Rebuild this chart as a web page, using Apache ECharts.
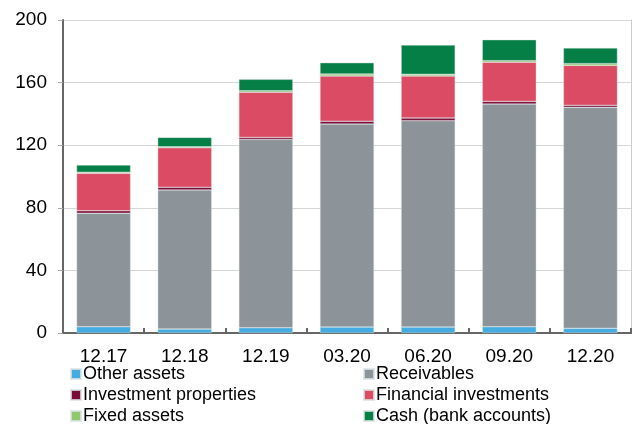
<!DOCTYPE html>
<html>
<head>
<meta charset="utf-8">
<script src="https://cdn.jsdelivr.net/npm/echarts@6/dist/echarts.min.js"></script>
<style>
  html, body { margin: 0; padding: 0; background: #fff; }
  #chart { width: 632px; height: 424px; }
</style>
</head>
<body>
<div id="chart"></div>
<script>
// Quarter-end balance sheet asset breakdown
const categories = ['12.17', '12.18', '12.19', '03.20', '06.20', '09.20', '12.20'];
const yTicks = [0, 40, 80, 120, 160, 200];

const otherAssets          = [4.0, 2.5, 3.4, 3.8, 3.8, 4.0, 3.0];
const receivables          = [72.5, 88.9, 120.3, 129.7, 131.9, 142.3, 141.2];
const investmentProperties = [1.6, 1.7, 1.3, 1.8, 1.7, 1.7, 1.3];
const financialInvestments = [23.9, 25.3, 28.8, 28.9, 26.8, 25.0, 25.5];
const fixedAssets          = [0.7, 0.6, 1.0, 1.3, 1.1, 1.0, 1.1];
const cashBankAccounts     = [4.6, 6.0, 7.3, 7.2, 18.7, 13.4, 10.0];

const seriesDefs = [
  { name: 'Other assets', data: otherAssets, color: '#45ace2' },
  { name: 'Receivables', data: receivables, color: '#8c9499' },
  { name: 'Investment properties', data: investmentProperties, color: '#7b0b37' },
  { name: 'Financial investments', data: financialInvestments, color: '#dc4b64' },
  { name: 'Fixed assets', data: fixedAssets, color: '#8fc96c' },
  { name: 'Cash (bank accounts)', data: cashBankAccounts, color: '#067f46' }
];

const font = 'Liberation Sans, Arial, sans-serif';
const chart = echarts.init(document.getElementById('chart'), null, { renderer: 'canvas' });

const legendBase = {
  orient: 'vertical',
  top: 365,
  height: 60,
  padding: 0,
  itemWidth: 10,
  itemHeight: 10,
  itemGap: 3,
  icon: 'rect',
  selectedMode: false,
  textStyle: { fontFamily: font, fontSize: 18, color: '#000', lineHeight: 17, padding: [0, 0, 0, -3] }
};

chart.setOption({
  animation: false,
  backgroundColor: '#fff',
  grid: { left: 63, right: 1, top: 20, bottom: 91 },
  legend: [
    Object.assign({}, legendBase, { left: 70, data: ['Other assets', 'Investment properties', 'Fixed assets'] }),
    Object.assign({}, legendBase, { left: 363, data: ['Receivables', 'Financial investments', 'Cash (bank accounts)'] })
  ],
  xAxis: [
    {
      type: 'category',
      data: categories,
      axisLine: { show: true, lineStyle: { color: '#666', width: 2 } },
      axisTick: { show: true, inside: true, length: 5, alignWithLabel: false, lineStyle: { color: '#666', width: 2 } },
      axisLabel: { fontFamily: font, fontSize: 19, color: '#000', margin: 14 }
    },
    {
      type: 'category',
      position: 'top',
      data: categories,
      axisLine: { show: true, lineStyle: { color: '#666', width: 2 } },
      axisTick: { show: false },
      axisLabel: { show: false }
    }
  ],
  yAxis: [
    {
      type: 'value',
      min: 0,
      max: 200,
      interval: 40,
      axisLine: { show: true, lineStyle: { color: '#666', width: 2 } },
      axisTick: { show: true, length: 5, lineStyle: { color: '#aaa' } },
      splitLine: { show: true, lineStyle: { color: '#d3d7d7', width: 1 } },
      axisLabel: {
        fontFamily: font, fontSize: 19, color: '#000', margin: 16,
        formatter: v => (yTicks.indexOf(v) >= 0 ? String(v) : '')
      }
    },
    {
      type: 'value',
      position: 'right',
      min: 0,
      max: 200,
      interval: 40,
      axisLine: { show: true, lineStyle: { color: '#ccc', width: 1 } },
      axisTick: { show: false },
      splitLine: { show: false },
      axisLabel: { show: false }
    }
  ],
  series: seriesDefs.map(s => ({
    name: s.name,
    type: 'bar',
    stack: 'assets',
    data: s.data,
    barWidth: 54,
    itemStyle: { color: s.color, borderColor: 'rgba(220,228,228,0.8)', borderWidth: 0.5 }
  }))
});
</script>
</body>
</html>
